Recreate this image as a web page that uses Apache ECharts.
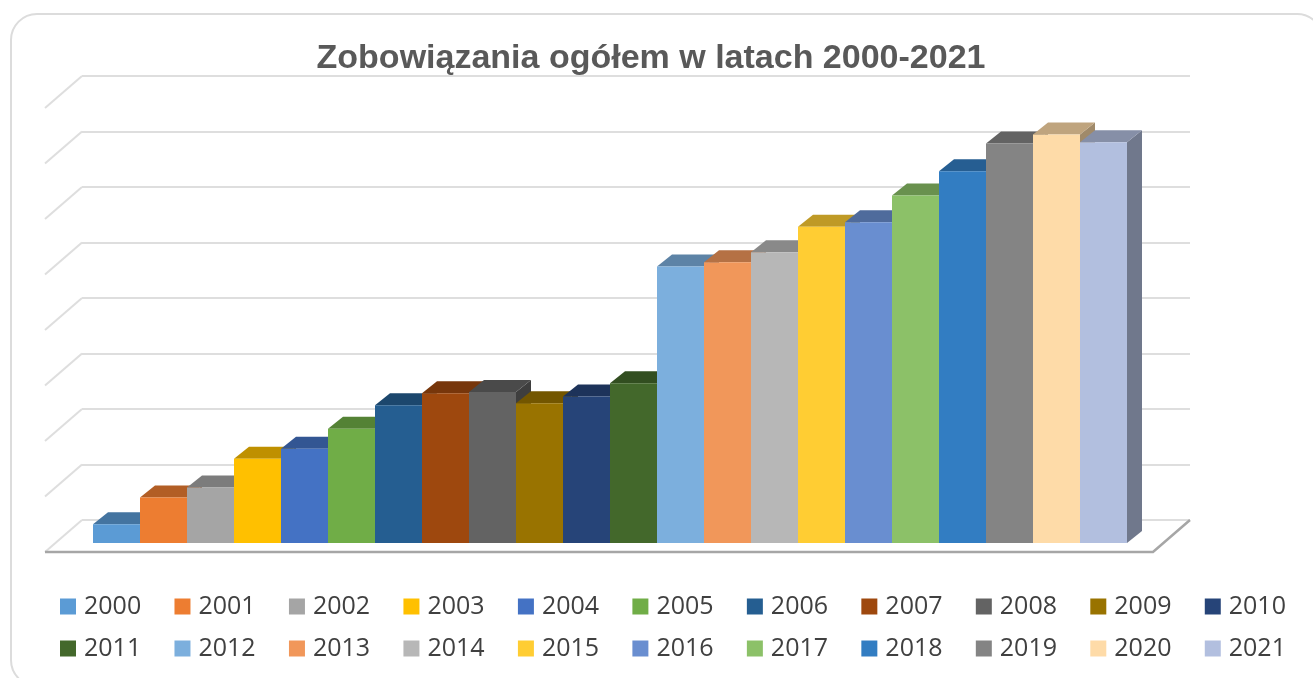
<!DOCTYPE html>
<html>
<head>
<meta charset="utf-8">
<title>Zobowiązania ogółem</title>
<style>
  html, body { margin: 0; padding: 0; background: #fff; }
  #chart { width: 1313px; height: 678px; }
</style>
</head>
<body>
<div id="chart"></div>
<script src="https://cdn.jsdelivr.net/npm/echarts@6/dist/echarts.min.js"></script>
<script>
const years = ['2000','2001','2002','2003','2004','2005','2006','2007','2008','2009','2010',
  '2011','2012','2013','2014','2015','2016','2017','2018','2019','2020','2021']
// no scale printed on the chart, values are read in units of 50 per gridline
const values = [17, 41, 50, 76, 85, 103, 124, 135, 136, 126, 132,
  144, 249, 253, 262, 285, 289, 313, 335, 360, 368, 361]
const colors = ['#5B9BD5','#ED7D31','#A5A5A5','#FFC000','#4472C4','#70AD47','#255E91','#9E480E','#636363','#997300','#264478',
  '#43682B','#7CAFDD','#F1975A','#B7B7B7','#FFCD33','#698ED0','#8CC168','#327DC2','#848484','#FEDBA8','#B2BFDF']
const gridTicks = [0, 50, 100, 150, 200, 250, 300, 350, 400]

const shade = (hex, k) => {
  const n = parseInt(hex.slice(1), 16)
  const c = [n >> 16, (n >> 8) & 255, n & 255].map(v => Math.round(v * k))
  return `rgb(${c.join(',')})`
}

// side walls and floor, drawn from the back wall grid towards the viewer
const renderWall = (params, api) => {
  const p = api.coord([0, api.value(0)])
  const children = [{
    type: 'line',
    shape: { x1: p[0], y1: p[1], x2: p[0] - 37, y2: p[1] + 32 },
    style: { stroke: '#dedede', lineWidth: 2 }
  }]
  if (api.value(0) === 0) {
    const r = api.coord([1, 0])
    children.push({
      type: 'polyline',
      shape: { points: [[p[0] - 37, p[1] + 32], [r[0] - 37, r[1] + 32], [r[0], r[1]]] },
      style: { stroke: '#a6a6a6', lineWidth: 2.5, fill: null }
    })
  }
  return { type: 'group', children }
}

const renderBar = color => (params, api) => {
  const top = api.coord([api.value(0), api.value(1)])
  const base = api.coord([api.value(0), 0])
  const w = api.size([1, 0])[0]
  const x0 = top[0] - w / 2
  const x1 = top[0] + w / 2
  const dx = 15, dy = 12
  return {
    type: 'group',
    children: [
      {
        type: 'polygon',
        shape: { points: [[x1, top[1]], [x1 + dx, top[1] - dy], [x1 + dx, base[1] - dy], [x1, base[1]]] },
        style: { fill: shade(color, 0.63) }
      },
      {
        type: 'polygon',
        shape: { points: [[x0, top[1]], [x0 + dx, top[1] - dy], [x1 + dx, top[1] - dy], [x1, top[1]]] },
        style: { fill: shade(color, 0.75) }
      },
      {
        type: 'rect',
        shape: { x: x0, y: top[1], width: w, height: base[1] - top[1] },
        style: { fill: color }
      }
    ]
  }
}

const legendStyle = { fontFamily: 'Open Sans', fontSize: 25, color: '#404040', padding: [0, 0, 0, 3] }
const legendBase = {
  left: 60,
  padding: 0,
  icon: 'rect',
  itemWidth: 16,
  itemHeight: 16,
  itemGap: 33.3,
  orient: 'horizontal',
  textStyle: legendStyle,
  selectedMode: false
}

const getOption = () => ({
  animation: false,
  backgroundColor: '#fff',
  graphic: [{
    type: 'rect',
    silent: true,
    shape: { x: 11, y: 14, width: 1312, height: 672, r: 26 },
    style: { fill: '#fff', stroke: '#dcdcdc', lineWidth: 2 }
  }],
  title: {
    text: 'Zobowiązania ogółem w latach 2000-2021',
    left: 646,
    top: 37,
    textAlign: 'center',
    textStyle: { fontFamily: 'Liberation Sans', fontSize: 34, fontWeight: 'bold', color: '#595959' }
  },
  legend: [
    { ...legendBase, top: 594, data: years.slice(0, 11) },
    { ...legendBase, top: 636, data: years.slice(11) }
  ],
  grid: [
    { left: 82, top: 76, width: 1108, height: 444 },
    { left: 93, top: 99, width: 1034, height: 444 }
  ],
  xAxis: [
    { gridIndex: 0, type: 'value', min: 0, max: 1, show: false },
    { gridIndex: 1, type: 'category', data: years, show: false }
  ],
  yAxis: [
    {
      gridIndex: 0, type: 'value', min: 0, max: 400, interval: 50,
      axisLine: { show: false }, axisTick: { show: false }, axisLabel: { show: false },
      splitLine: { lineStyle: { color: '#dedede', width: 2 } }
    },
    { gridIndex: 1, type: 'value', min: 0, max: 400, show: false }
  ],
  series: [
    {
      type: 'custom',
      name: 'wall',
      xAxisIndex: 0,
      yAxisIndex: 0,
      silent: true,
      clip: false,
      renderItem: renderWall,
      encode: { y: 0 },
      data: gridTicks.map(t => [t])
    },
    ...years.map((year, i) => ({
      type: 'custom',
      name: year,
      xAxisIndex: 1,
      yAxisIndex: 1,
      clip: false,
      itemStyle: { color: colors[i] },
      renderItem: renderBar(colors[i]),
      encode: { x: 0, y: 1 },
      data: [[year, values[i]]]
    }))
  ]
})

const myChart = echarts.init(document.getElementById('chart'))
myChart.setOption(getOption())
window.addEventListener('resize', () => { myChart.resize() })
</script>
</body>
</html>
